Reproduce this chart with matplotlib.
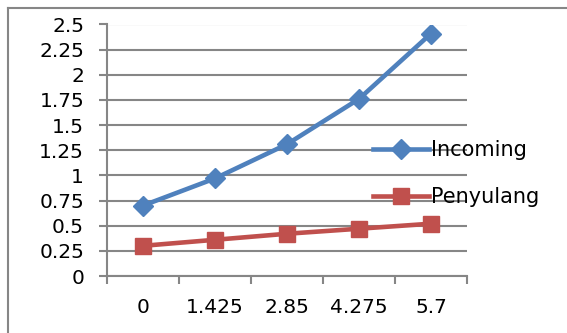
import numpy as np
import matplotlib.pyplot as plt
from matplotlib.lines import Line2D

# Datos
categorias = ["0", "1.425", "2.85", "4.275", "5.7"]
incoming = [0.70, 0.97, 1.31, 1.76, 2.41]
penyulang = [0.30, 0.36, 0.42, 0.47, 0.52]

plt.rcParams['font.family'] = ['DejaVu Sans']

azul = "#4F81BD"
rojo = "#C0504D"
gris = "#868686"

fig = plt.figure(figsize=(5.67, 3.33), dpi=100)
ax = fig.add_axes([107/567, 57/333, 360/567, 251.5/333])

x = np.arange(len(categorias))
ax.plot(x, incoming, color=azul, lw=3.3, marker="D", ms=10, label="Incoming")
ax.plot(x, penyulang, color=rojo, lw=3.3, marker="s", ms=12, label="Penyulang")

ax.set_xlim(-0.5, len(categorias) - 0.5)
ax.set_ylim(0, 2.5)
ax.set_yticks(np.arange(0, 2.51, 0.25))
ax.set_yticklabels(["0", "0.25", "0.5", "0.75", "1", "1.25", "1.5", "1.75", "2", "2.25", "2.5"])
ax.grid(axis="y", color=gris, lw=1.5)
ax.set_axisbelow(True)

# ticks en los limites de categoria, etiquetas en el centro
ax.set_xticks(np.arange(-0.5, len(categorias), 1))
ax.set_xticklabels([])
ax.set_xticks(x, minor=True)
ax.set_xticklabels(categorias, minor=True)
ax.tick_params(axis="x", which="major", length=5.5, width=1.5, color=gris, direction="out")
ax.tick_params(axis="x", which="minor", length=0, pad=16, labelsize=14.5)
ax.tick_params(axis="y", length=5.5, width=1.5, color=gris, pad=11, labelsize=14.5)

for lado in ["top", "right"]:
    ax.spines[lado].set_visible(False)
for lado in ["left", "bottom"]:
    ax.spines[lado].set_color(gris)
    ax.spines[lado].set_linewidth(1.5)

leg = ax.legend(loc="upper left", bbox_to_anchor=(373/567, 1 - 140/333),
                bbox_transform=fig.transFigure, frameon=False, fontsize=15,
                handlelength=2.7, handletextpad=0.1, labelspacing=1.3,
                borderpad=0, borderaxespad=0)

# borde del grafico
fig.add_artist(Line2D([8/567, 8/567], [0, 1 - 8/333], color=gris, lw=1.5,
                      transform=fig.transFigure))
fig.add_artist(Line2D([8/567, 1], [1 - 8/333, 1 - 8/333], color=gris, lw=1.5,
                      transform=fig.transFigure))

fig.savefig("out.png", dpi=100)
